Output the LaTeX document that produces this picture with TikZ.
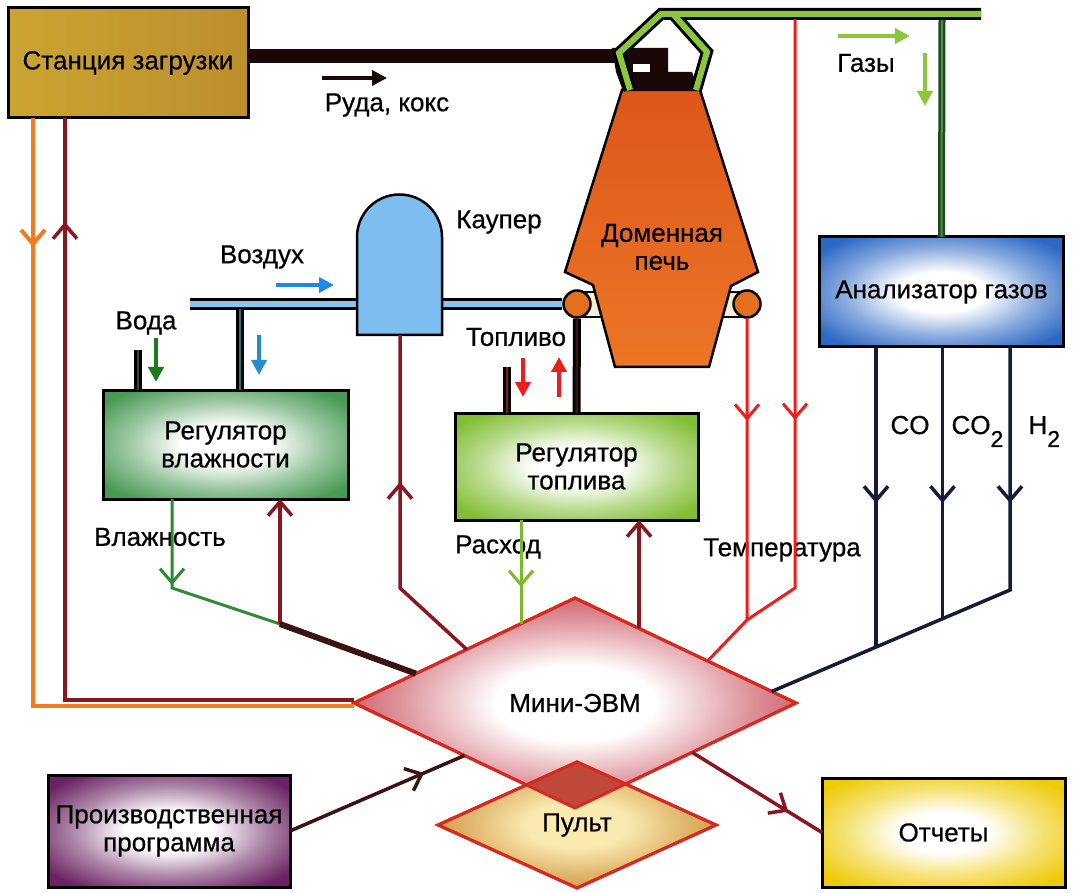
\documentclass[tikz,border=0pt]{standalone}
\usepackage{fontspec}
\setmainfont[FakeBold=0.6]{Liberation Sans}
\usepackage{tikz}
\usetikzlibrary{positioning,shapes.geometric,arrows.meta,decorations.markings,calc}

\definecolor{ochreL}{HTML}{CBA532}
\definecolor{ochreR}{HTML}{BC8E2C}
\definecolor{furnaceA}{HTML}{DE561A}
\definecolor{furnaceB}{HTML}{EC7626}
\definecolor{tuyerecol}{HTML}{E2701E}
\definecolor{bandcol}{HTML}{F2EED2}
\definecolor{bellgreen}{HTML}{8CC63C}
\definecolor{gasdark}{HTML}{1F4A20}
\definecolor{gasmid}{HTML}{4F8C44}
\definecolor{airblue}{HTML}{8CC6EE}
\definecolor{cowperblue}{HTML}{7DBDF0}
\definecolor{branchcol}{HTML}{2E6E76}
\definecolor{darkred}{HTML}{8A1620}
\definecolor{orangeline}{HTML}{F47A20}
\definecolor{tempred}{HTML}{EE1C1C}
\definecolor{busnavy}{HTML}{151C3A}
\definecolor{humgreen}{HTML}{2E8A30}
\definecolor{rategreen}{HTML}{7CB828}
\definecolor{busdark}{HTML}{3A1410}
\definecolor{arrowblue}{HTML}{1E88E8}
\definecolor{waterblue}{HTML}{2A8AD0}
\definecolor{watergreen}{HTML}{1E7A1E}
\definecolor{cpuline}{HTML}{D42A20}
\definecolor{overlapcol}{HTML}{C0483A}
\definecolor{hopper}{HTML}{1A0808}
\definecolor{humedge}{HTML}{4A9A56}
\definecolor{fueledge}{HTML}{82BE34}
\definecolor{gasedge}{HTML}{2C68C4}
\definecolor{progedge}{HTML}{6A2262}
\definecolor{repedge}{HTML}{EECB08}
\definecolor{cpuedge}{HTML}{C23848}
\definecolor{consedge}{HTML}{C98630}
\definecolor{consin}{HTML}{FAEAB0}

% white-centred fills for the blocks
\newcommand\glowfill[3]{%
  \colorlet{#1-mid}{#3!55!#2}%
  \pgfdeclareradialshading{#1}{\pgfpoint{0bp}{0bp}}{%
    color(0bp)=(#2); color(9bp)=(#2); color(20bp)=(#1-mid); color(31bp)=(#3); color(50bp)=(#3)}}
\glowfill{glowhum}{white}{humedge}
\glowfill{glowfuel}{white}{fueledge}
\glowfill{glowgas}{white}{gasedge}
\glowfill{glowprog}{white}{progedge}
\glowfill{glowrep}{white}{repedge}
\glowfill{glowcpu}{white}{cpuedge}
\glowfill{glowcons}{consin}{consedge}

\newcommand\gsub[1]{\raisebox{-13pt}{\fontsize{23}{23}\selectfont #1}}

\tikzset{
  block/.style={draw=black, line width=3pt, inner sep=0pt, outer sep=0pt, align=center},
  ctl/.style={line width=3.5pt, darkred},
  templine/.style={line width=3pt, tempred},
  busline/.style={line width=3.5pt, busnavy},
  flowarrow/.style={line width=4pt, -{Triangle[length=15pt,width=15pt]}},
  midarrow/.style={postaction={decorate, decoration={markings,
      mark=at position #1 with {\arrow{>}}}}},
  cpu/.style={diamond, draw=cpuline, line width=3pt, inner sep=0pt, outer sep=0pt,
      minimum width=442pt, minimum height=210pt, shading=glowcpu},
  console/.style={diamond, draw=cpuline, line width=3pt, inner sep=0pt, outer sep=0pt,
      minimum width=278pt, minimum height=126pt, shading=glowcons},
  tuyere/.style={circle, draw=black, line width=2.5pt, fill=tuyerecol,
      minimum size=27pt, inner sep=0pt}
}

\begin{document}
\begin{tikzpicture}[x=1pt, y=-1pt, >={Straight Barb[length=14pt,width=24pt]},
    every node/.style={font=\fontsize{26}{28}\selectfont}]
\useasboundingbox[fill=white] (0,0) rectangle (1074,893);

% free labels (the lines run over them)
\node (ore-lbl) at (387,105) {Руда, кокс};
\node (air-lbl) at (262,257) {Воздух};
\node (cowper-lbl) at (499,222) {Каупер};
\node (water-lbl) at (146,323) {Вода};
\node (fuel-lbl) at (516,337) {Топливо};
\node (gas-lbl) at (866,63) {Газы};
\node (hum-lbl) at (160,537) {Влажность};
\node (rate-lbl) at (498,547) {Расход};
\node (temp-lbl) at (782,550) {Температура};
\node[anchor=base west] (co-lbl) at (887,434) {CO};
\node[anchor=base west] (co2-lbl) at (948,434) {CO\gsub{2}};
\node[anchor=base west] (h2-lbl) at (1025,434) {H\gsub{2}};

% blocks
\node[block, left color=ochreL, right color=ochreR, minimum width=240pt, minimum height=110pt]
  (station) at (128,63) {Станция загрузки};
\node[block, shading=glowhum, minimum width=245pt, minimum height=109pt]
  (regH) at (225.5,444.5) {Регулятор\\влажности};
\node[block, shading=glowfuel, minimum width=243pt, minimum height=107pt]
  (regF) at (576.5,466.5) {Регулятор\\топлива};
\node[block, shading=glowgas, minimum width=244pt, minimum height=110pt]
  (gasan) at (941.5,292) {Анализатор газов};
\node[block, shading=glowprog, minimum width=242pt, minimum height=112pt]
  (prog) at (169,831) {Производственная\\программа};
\node[block, shading=glowrep, minimum width=243pt, minimum height=109pt]
  (report) at (943.5,832.5) {Отчеты};

% furnace with bustle band, hopper and gas offtake
\draw[line width=2pt, fill=bandcol] (577,292) rectangle (747,317);
\draw[line width=2.5pt, top color=furnaceA, bottom color=furnaceB]
  (622,90) -- (700,90) -- (758,272) -- (731,286) -- (709,367) -- (615,367)
  -- (593,285) -- (565,272) -- cycle;
\node[align=center] (furnace) at (662,247) {Доменная\\печь};
\fill[hopper] (612,48) -- (668,48) -- (668,72) -- (692,72) -- (699,91) -- (623,91)
  -- (616,72) -- cycle;
\fill[white] (633,64) rectangle (650,72);
\draw[line width=14pt, hopper] ([yshift=7pt]station.east) -- (616,56);
\foreach \w/\c in {7pt/gasdark, 2pt/gasmid}
  \draw[line width=\w, \c] (942,18) -- (gasan.north);
\foreach \w/\c in {12pt/black, 6pt/bellgreen}
  \draw[line width=\w, \c] (630,90) -- (619,53) -- (661,14) -- (981,14)
    (673,14) -- (707,52) -- (696,90);
\node[tuyere] (tuyL) at (577,304) {};
\node[tuyere] (tuyR) at (747,304) {};

% hot blast pipe and stove
\foreach \w/\c in {12pt/black, 6pt/airblue}
  \draw[line width=\w, \c] (190,304) -- (tuyL.west);
\foreach \w/\c in {8pt/black, 2.5pt/branchcol}
  \draw[line width=\w, \c] (240,309) -- ([xshift=14.5pt]regH.north);
\draw[line width=2.5pt, fill=cowperblue] (357,335) -- (357,237) arc (180:360:42.5)
  -- (442,335) -- cycle;
\coordinate (cowper) at (400,335);

% inlets to the regulators
\foreach \w/\c in {8pt/black, 2pt/darkgray}
  \draw[line width=\w, \c] (138,350) -- ([xshift=-87.5pt]regH.north);
\foreach \w/\c in {8pt/black, 2.5pt/darkred}
  \draw[line width=\w, \c] (507,367) -- ([xshift=-69.5pt]regF.north);
\foreach \w/\c in {8pt/black, 2.5pt/busdark}
  \draw[line width=\w, \c] (tuyL.south) -- (regF.north);

% flow marks
\draw[flowarrow, hopper] (322,78) -- (387,78);
\draw[flowarrow, arrowblue] (276,285) -- (334,285);
\draw[flowarrow, bellgreen] (838,36) -- (910,36);
\draw[flowarrow, bellgreen] (925,53) -- (925,106);
\draw[flowarrow, watergreen] (156,338) -- (156,382);
\draw[flowarrow, waterblue] (259,335) -- (259,375);
\draw[flowarrow, tempred] (523,358) -- (523,397);
\draw[flowarrow, tempred] (559,397) -- (559,357);

% computer and console
\node[cpu] (evm) at (575,703) {Мини-ЭВМ};
\node[console] (pult) at (577,825) {Пульт};
\begin{scope}
  \clip (evm.west) -- (evm.north) -- (evm.east) -- (evm.south) -- cycle;
  \fill[overlapcol] (pult.west) -- (pult.north) -- (pult.east) -- (pult.south) -- cycle;
\end{scope}
\draw[cpuline, line width=3pt, line join=miter]
  (evm.west) -- (evm.north) -- (evm.east) -- (evm.south) -- cycle
  (pult.west) -- (pult.north) -- (pult.east) -- (pult.south) -- cycle;

% loading station lines
\draw[line width=4pt, orangeline, midarrow=129pt]
  ([xshift=-95pt]station.south) -- (33,706) -- ([yshift=-3pt]evm.west);
\draw[ctl, midarrow=-104pt]
  ([yshift=3pt]evm.west) -- (65,700) -- ([xshift=-63pt]station.south);

% humidity loop
\coordinate (hum-bend) at (172,588);
\coordinate (hum-in) at ($(evm.west)!0.28!(evm.north)$);
\coordinate (hum-join) at (280,624);
\draw[line width=3pt, humgreen, midarrow=86pt]
  ([xshift=-53.5pt]regH.south) -- (hum-bend) -- (hum-join) -- (hum-in);
\draw[ctl, ->] (hum-join) -- ([xshift=54.5pt]regH.south);
\draw[line width=6pt, busdark] (hum-join) -- (hum-in);

% stove
\coordinate (cow-bend) at (400,588);
\draw[ctl, midarrow=-147pt] ($(evm.north)!0.49!(evm.west)$) -- (cow-bend) -- (cowper);

% fuel loop
\coordinate (rate-top) at ([xshift=-55.5pt]regF.south);
\coordinate (rate-in) at ($(evm.north)!0.25!(evm.west)$);
\draw[line width=3pt, rategreen, midarrow=67pt] (rate-top) -- (rate-top |- rate-in);
\coordinate (fuel-in) at ($(evm.north)!0.29!(evm.east)$);
\draw[ctl, ->] (fuel-in) -- (fuel-in |- regF.south);

% temperatures
\coordinate (t-top) at (795,19);
\coordinate (t-bend) at (795,588);
\coordinate (t-join) at (747,620);
\draw[templine, midarrow=102pt] (tuyR.south) -- (t-join) -- ($(evm.north)!0.6!(evm.east)$);
\draw[templine, midarrow=401pt] (t-top) -- (t-bend) -- (t-join);

% gas analysis
\coordinate (gas-in) at ($(evm.north)!0.89!(evm.east)$);
\coordinate (h2-bend) at (1010,590);
\draw[busline, midarrow=156pt] ([xshift=68.5pt]gasan.south) -- (h2-bend) -- (gas-in);
\coordinate (co2-top) at ([xshift=1pt]gasan.south);
\coordinate (co-top) at ([xshift=-65.5pt]gasan.south);
\draw[busline, midarrow=156pt] (co2-top) -- (co2-top |- {$(h2-bend)!0.28!(gas-in)$});
\draw[busline, midarrow=156pt] (co-top) -- (co-top |- {$(h2-bend)!0.56!(gas-in)$});

% program in, reports out
\draw[line width=3.5pt, busdark, midarrow=146pt] (prog.east) -- ($(evm.west)!0.5!(evm.south)$);
\draw[ctl, midarrow=113pt] ($(evm.east)!0.47!(evm.south)$) -- (report.west);
\end{tikzpicture}
\end{document}
